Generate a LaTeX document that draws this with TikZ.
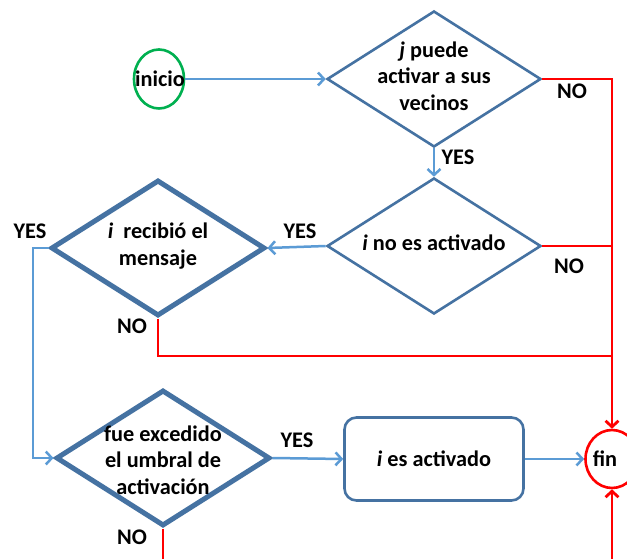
\documentclass[tikz,border=0pt]{standalone}
\usepackage{fontspec}
\setmainfont{Carlito}
\usetikzlibrary{shapes.geometric,arrows.meta}
\definecolor{flowblue}{RGB}{91,155,213}
\definecolor{shapeblue}{RGB}{69,114,162}
\definecolor{startgreen}{RGB}{0,176,80}
\definecolor{stopred}{RGB}{255,0,0}
\begin{document}
\begin{tikzpicture}[x=1pt,y=-1pt,
  every node/.style={font=\fontsize{22.3}{26.5}\selectfont\bfseries, inner sep=0pt},
  decision/.style={diamond, draw=shapeblue, line width=2.6pt, minimum width=214pt, minimum height=136pt},
  bigdecision/.style={decision, line width=5pt},
  caption/.style={align=center},
  taskbox/.style={rectangle, rounded corners=12pt, draw=shapeblue, line width=2.6pt, minimum width=179pt, minimum height=83pt},
  tag/.style={anchor=center},
  yesline/.style={draw=flowblue, line width=2.5pt},
  yesarrow/.style={yesline, -{Straight Barb[length=6pt,width=13pt,line width=2.5pt]}},
  noline/.style={draw=stopred, line width=2.8pt},
  noarrow/.style={noline, -{Straight Barb[length=6pt,width=13pt,line width=2.8pt]}}
]
\clip (0,0) rectangle (627,559);
\fill[white] (0,0) rectangle (627,559);

% start and end terminals
\node[ellipse, draw=startgreen, line width=2.6pt, minimum width=50pt, minimum height=59pt] (inicio) at (159,79) {};
\node (tinicio) at (160,79) {inicio};
\node[ellipse, draw=stopred, line width=2.6pt, minimum width=53pt, minimum height=58pt] (fin) at (612,459) {};
\node (tfin) at (605,459) {fin};

% decisions
\node[decision] (d1) at (434,79) {};
\node[caption] (t1) at (434,76) {\textit{j} puede\\activar a sus\\vecinos};
\node[decision] (d2) at (434,246) {};
\node[caption] (t2) at (434,243) {\textit{i} no es activado};
\node[bigdecision] (d3) at (158,248) {};
\node[caption] (t3) at (158,246) {\textit{i}\ \ recibió el\\mensaje};
\node[bigdecision] (d4) at (163,458) {};
\node[caption] (t4) at (163,460) {fue excedido\\el umbral de\\activación};

% action
\node[taskbox] (act) at (434,459) {\textit{i} es activado};

% branch labels
\node[tag] (no1) at (572,91) {NO};
\node[tag] (yes1) at (458,157) {YES};
\node[tag] (no2) at (569,266) {NO};
\node[tag] (yes2) at (300,231) {YES};
\node[tag] (yes3) at (30,231) {YES};
\node[tag] (no3) at (132,326) {NO};
\node[tag] (yes4) at (297,440) {YES};
\node[tag] (no4) at (132,537) {NO};

% routing points
\coordinate (lbend) at (33,248);
\coordinate (j2) at (fin.north |- d2.east);
\coordinate (j3) at (612,356);
\coordinate (fbot) at (612,580);
\coordinate (d4out) at (163,580);

% positive flow
\draw[yesarrow] (inicio.east) -- (d1.west);
\draw[yesarrow] (d1.south) -- (d2.north);
\draw[yesarrow] (d2.west) -- (d3.east);
\draw[yesarrow] (d3.west) -- (lbend) |- (d4.west);
\draw[yesarrow] (d4.east) -- (act.west);
\draw[yesarrow] (act.east) -- (fin.west);

% negative flow
\draw[noarrow] (d1.east) -| (fin.north);
\draw[noline] (d2.east) -- (j2);
\draw[noline] (d3.south) |- (j3);
\draw[noarrow] (fbot) -- (fin.south);
\draw[noline] (d4.south) -- (d4out);
\end{tikzpicture}
\end{document}
